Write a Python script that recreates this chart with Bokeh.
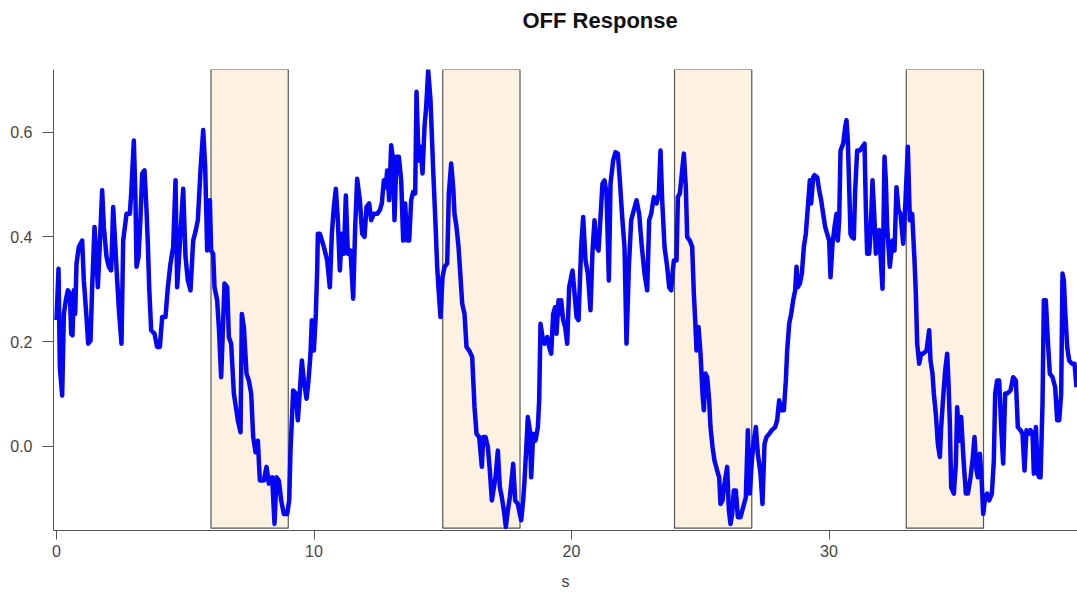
from bokeh.plotting import figure
from bokeh.models import Range1d, PrintfTickFormatter, Title
from bokeh.embed import file_html
from bokeh.resources import INLINE

# stimulus (light-off) windows, seconds
stim_start = [6, 15, 24, 33]
stim_end = [9, 18, 27, 36]

x_ticks = [0, 10, 20, 30]
y_ticks = [0.0, 0.2, 0.4, 0.6]

# response trace, split into pieces by stimulus cycle
t_pre = [0.000, 0.078, 0.129, 0.220, 0.285, 0.362, 0.440, 0.518, 0.570, 0.621,
         0.673, 0.725, 0.777, 0.867, 0.997, 1.061, 1.165, 1.230, 1.320, 1.385,
         1.476, 1.579, 1.605, 1.683, 1.773, 1.838, 1.942, 2.032, 2.123, 2.201,
         2.265, 2.356, 2.434, 2.524, 2.589, 2.718, 2.848, 2.900, 3.003, 3.068,
         3.107, 3.185, 3.262, 3.327, 3.418, 3.495, 3.547, 3.599, 3.676, 3.806,
         3.909, 4.013, 4.104, 4.233, 4.324, 4.427, 4.531, 4.622, 4.686, 4.790,
         4.919, 5.010, 5.100, 5.204, 5.307, 5.411, 5.489, 5.592, 5.696, 5.774,
         5.851, 5.955, 6.006, 6.084, 6.136, 6.239, 6.304, 6.395]
r_pre = [0.241, 0.339, 0.152, 0.097, 0.253, 0.279, 0.298, 0.292, 0.215, 0.212,
         0.298, 0.253, 0.349, 0.381, 0.393, 0.317, 0.247, 0.196, 0.202, 0.304,
         0.419, 0.330, 0.304, 0.387, 0.489, 0.419, 0.362, 0.343, 0.336, 0.457,
         0.400, 0.317, 0.253, 0.196, 0.393, 0.444, 0.444, 0.483, 0.584, 0.470,
         0.343, 0.362, 0.438, 0.521, 0.527, 0.451, 0.387, 0.304, 0.222, 0.215,
         0.190, 0.190, 0.247, 0.247, 0.304, 0.349, 0.381, 0.508, 0.304, 0.387,
         0.492, 0.362, 0.317, 0.298, 0.393, 0.413, 0.432, 0.527, 0.604, 0.534,
         0.374, 0.470, 0.374, 0.368, 0.304, 0.279, 0.228, 0.132]

t_c1 = [6.524, 6.628, 6.693, 6.783, 6.887, 7.042, 7.146, 7.197, 7.275, 7.379,
        7.469, 7.560, 7.638, 7.728, 7.819, 7.896, 8.052, 8.155, 8.246, 8.375,
        8.466, 8.544, 8.634, 8.725, 8.828, 8.958, 9.036]
r_c1 = [0.311, 0.304, 0.209, 0.196, 0.101, 0.050, 0.027, 0.253, 0.228, 0.139,
        0.126, 0.101, 0.018, -0.011, 0.011, -0.065, -0.065, -0.039, -0.071, -0.059,
        -0.148, -0.059, -0.065, -0.103, -0.129, -0.129, -0.103]

t_r1 = [9.087, 9.191, 9.294, 9.372, 9.450, 9.528, 9.605, 9.709, 9.786, 9.864,
        9.916, 9.994, 10.071, 10.123, 10.149, 10.227, 10.382, 10.511, 10.615, 10.693,
        10.770, 10.848, 10.926, 11.003, 11.081, 11.159, 11.236, 11.314, 11.417, 11.521,
        11.599, 11.676, 11.780, 11.871, 11.961, 12.039, 12.142, 12.220, 12.324, 12.453,
        12.557, 12.634, 12.712, 12.790, 12.841, 12.919, 12.997, 13.074, 13.126]
r_r1 = [-0.008, 0.107, 0.101, 0.050, 0.107, 0.164, 0.126, 0.091, 0.126, 0.177,
        0.241, 0.183, 0.253, 0.336, 0.406, 0.406, 0.381, 0.355, 0.304, 0.406,
        0.457, 0.492, 0.432, 0.336, 0.406, 0.368, 0.479, 0.368, 0.374, 0.282,
        0.419, 0.511, 0.470, 0.406, 0.400, 0.457, 0.464, 0.432, 0.444, 0.444,
        0.451, 0.464, 0.508, 0.495, 0.527, 0.470, 0.575, 0.546, 0.432]

t_c2 = [13.204, 13.294, 13.385, 13.463, 13.540, 13.618, 13.696, 13.773, 13.851, 13.929,
        13.981, 14.058, 14.136, 14.214, 14.291, 14.356, 14.434, 14.524, 14.628, 14.718,
        14.783, 14.848, 14.913, 14.990, 15.068, 15.171, 15.236, 15.327, 15.405, 15.456,
        15.534, 15.612, 15.689, 15.754, 15.845, 15.922, 16.026, 16.142, 16.233, 16.311,
        16.414, 16.518, 16.570, 16.660, 16.751, 16.828, 16.906, 16.984, 17.049, 17.139,
        17.217, 17.294, 17.372, 17.450, 17.528, 17.605, 17.683, 17.735, 17.812, 17.916,
        17.994, 18.045, 18.123, 18.175, 18.252, 18.304, 18.382, 18.434, 18.511, 18.602,
        18.693, 18.744, 18.796, 18.874, 18.951, 19.055, 19.133, 19.210, 19.288, 19.366,
        19.417, 19.495, 19.547, 19.599, 19.676, 19.754, 19.832, 19.909, 19.987, 20.039,
        20.117, 20.194, 20.272]
r_c2 = [0.553, 0.553, 0.508, 0.393, 0.464, 0.393, 0.393, 0.470, 0.486, 0.483,
        0.677, 0.546, 0.572, 0.521, 0.610, 0.648, 0.718, 0.661, 0.527, 0.425,
        0.343, 0.292, 0.247, 0.323, 0.343, 0.349, 0.483, 0.540, 0.495, 0.444,
        0.419, 0.381, 0.323, 0.273, 0.253, 0.190, 0.183, 0.171, 0.075, 0.024,
        0.018, -0.039, 0.018, 0.018, -0.001, -0.046, -0.103, -0.078, -0.059, -0.008,
        -0.078, -0.097, -0.122, -0.154, -0.122, -0.097, -0.059, -0.033, -0.103, -0.110,
        -0.129, -0.141, -0.103, -0.065, 0.005, 0.056, 0.031, -0.059, 0.024, 0.011,
        0.037, 0.088, 0.234, 0.209, 0.196, 0.209, 0.190, 0.177, 0.253, 0.266,
        0.215, 0.279, 0.253, 0.279, 0.241, 0.228, 0.196, 0.304, 0.323, 0.336,
        0.292, 0.247, 0.241]

t_c3 = [20.375, 20.453, 20.544, 20.634, 20.738, 20.816, 20.893, 20.971, 21.049, 21.126,
        21.204, 21.282, 21.359, 21.450, 21.515, 21.618, 21.709, 21.799, 21.877, 21.968,
        22.058, 22.136, 22.227, 22.318, 22.421, 22.524, 22.628, 22.731, 22.835, 22.939,
        23.016, 23.094, 23.198, 23.301, 23.392, 23.456, 23.521, 23.612, 23.715, 23.793,
        23.871, 23.922, 23.974, 24.078, 24.130, 24.207, 24.259, 24.362, 24.440, 24.492,
        24.595, 24.686, 24.751, 24.803, 24.854, 24.932, 25.010, 25.087, 25.139, 25.204,
        25.269, 25.346, 25.398, 25.476, 25.553, 25.657, 25.735, 25.786, 25.864, 25.942,
        26.045, 26.110, 26.175, 26.239, 26.304, 26.382, 26.460, 26.563, 26.667, 26.770,
        26.848, 26.926, 27.003, 27.081, 27.159, 27.236, 27.340, 27.417, 27.495, 27.573,
        27.676, 27.780, 27.909, 27.987, 28.065, 28.142, 28.246, 28.324, 28.375, 28.453,
        28.531, 28.608, 28.686, 28.738, 28.790, 28.867, 28.945, 29.023, 29.100, 29.178,
        29.256, 29.307, 29.385]
r_c3 = [0.381, 0.438, 0.355, 0.330, 0.260, 0.374, 0.432, 0.381, 0.374, 0.438,
        0.502, 0.508, 0.483, 0.317, 0.502, 0.546, 0.562, 0.559, 0.508, 0.438,
        0.381, 0.196, 0.343, 0.432, 0.451, 0.470, 0.444, 0.381, 0.330, 0.298,
        0.432, 0.444, 0.476, 0.464, 0.483, 0.565, 0.470, 0.381, 0.343, 0.304,
        0.298, 0.330, 0.355, 0.355, 0.476, 0.483, 0.508, 0.559, 0.495, 0.400,
        0.393, 0.381, 0.292, 0.241, 0.183, 0.228, 0.177, 0.101, 0.069, 0.139,
        0.132, 0.088, 0.037, -0.001, -0.027, -0.046, -0.059, -0.110, -0.103, -0.071,
        -0.039, -0.122, -0.148, -0.129, -0.084, -0.084, -0.135, -0.135, -0.116, -0.097,
        0.031, -0.090, -0.027, 0.011, 0.037, -0.014, -0.052, -0.110, 0.005, 0.018,
        0.024, 0.031, 0.037, 0.050, 0.088, 0.069, 0.069, 0.126, 0.183, 0.234,
        0.253, 0.279, 0.298, 0.343, 0.304, 0.311, 0.330, 0.381, 0.406, 0.457,
        0.508, 0.464, 0.514]

t_r3 = [29.437, 29.540, 29.618, 29.696, 29.773, 29.851, 29.929, 30.006, 30.058, 30.136,
        30.214, 30.291, 30.343, 30.395, 30.447, 30.550, 30.628, 30.680, 30.731, 30.783,
        30.835, 30.887, 30.964, 31.016, 31.094, 31.197, 31.301, 31.379, 31.430, 31.482,
        31.560, 31.612, 31.689, 31.767, 31.819, 31.871, 31.948, 32.026, 32.078, 32.155,
        32.207, 32.259, 32.362, 32.466, 32.544, 32.621, 32.699, 32.777, 32.880, 32.971]
r_r3 = [0.518, 0.514, 0.489, 0.470, 0.444, 0.419, 0.406, 0.393, 0.323, 0.387,
        0.419, 0.444, 0.393, 0.432, 0.565, 0.578, 0.610, 0.623, 0.584, 0.495,
        0.406, 0.400, 0.397, 0.489, 0.565, 0.565, 0.572, 0.578, 0.457, 0.368,
        0.368, 0.406, 0.508, 0.432, 0.368, 0.381, 0.413, 0.343, 0.301, 0.553,
        0.508, 0.419, 0.343, 0.393, 0.374, 0.495, 0.451, 0.444, 0.387, 0.470]

t_c4 = [33.061, 33.139, 33.230, 33.320, 33.372, 33.424, 33.502, 33.579, 33.657, 33.787,
        33.890, 33.942, 34.019, 34.071, 34.149, 34.227, 34.304, 34.356, 34.434, 34.511,
        34.589, 34.641, 34.693, 34.744, 34.848, 34.926, 34.977, 35.055, 35.133, 35.210,
        35.314, 35.392, 35.495, 35.573, 35.650, 35.728, 35.780, 35.858, 35.935, 35.987,
        36.065, 36.142, 36.220, 36.324, 36.401, 36.453, 36.531, 36.608, 36.686, 36.764,
        36.841, 36.919, 37.049, 37.152, 37.256, 37.333, 37.437, 37.515, 37.592, 37.670,
        37.748, 37.825, 37.903, 37.955, 38.033, 38.110, 38.162, 38.214, 38.291, 38.343,
        38.421, 38.498, 38.576, 38.680, 38.783, 38.861, 38.939, 39.016, 39.068, 39.120,
        39.171, 39.249, 39.327, 39.430, 39.534, 39.612]
r_c4 = [0.572, 0.432, 0.444, 0.355, 0.292, 0.196, 0.158, 0.177, 0.177, 0.183,
        0.222, 0.164, 0.139, 0.101, 0.062, 0.005, -0.020, 0.037, 0.094, 0.145,
        0.177, 0.120, 0.043, -0.078, -0.090, -0.033, 0.075, 0.011, 0.056, -0.014,
        -0.090, -0.090, -0.059, -0.027, 0.018, -0.046, -0.059, -0.014, -0.071, -0.129,
        -0.097, -0.090, -0.103, -0.090, -0.027, 0.101, 0.126, 0.126, 0.037, -0.033,
        0.101, 0.101, 0.107, 0.132, 0.126, 0.037, 0.031, 0.024, -0.046, 0.031,
        0.024, 0.031, 0.024, -0.052, 0.037, -0.052, -0.059, -0.059, 0.081, 0.279,
        0.279, 0.202, 0.139, 0.132, 0.113, 0.050, 0.050, 0.101, 0.330, 0.317,
        0.260, 0.190, 0.164, 0.158, 0.158, 0.113]

time_s = t_pre + t_c1 + t_r1 + t_c2 + t_c3 + t_r3 + t_c4
response = r_pre + r_c1 + r_r1 + r_c2 + r_c3 + r_r3 + r_c4

Y_LO, Y_HI = -0.1605, 0.7196

p = figure(width=1077, height=593, output_backend="svg", toolbar_location=None,
           x_range=Range1d(-0.117, 39.65), y_range=Range1d(Y_LO, Y_HI),
           min_border_left=53, min_border_right=0, min_border_top=69,
           min_border_bottom=63, background_fill_color="white",
           border_fill_color="white")

p.title.text = "OFF Response"
p.title.align = "left"
p.title.offset = 469
p.title.standoff = 4
p.title.text_font = "Liberation Sans"
p.title.text_font_size = "22px"
p.title.text_font_style = "bold"
p.title.text_color = "#111111"

# blank spacer between the title and the plot area
p.add_layout(Title(text=" ", text_font_size="1px", standoff=32), "above")

p.outline_line_color = None
p.xgrid.visible = False
p.ygrid.visible = False

# stimulus windows behind the trace
p.quad(left=stim_start, right=stim_end, bottom=-0.156, top=Y_HI,
       fill_color="#FDF2DF", line_color="#555555", line_width=1.2)

p.line(time_s, response, line_color="#0505F5", line_width=4.5, line_join="round")

for ax in (p.xaxis[0], p.yaxis[0]):
    ax.axis_line_color = "#555555"
    ax.major_tick_line_color = "#555555"
    ax.minor_tick_line_color = None
    ax.major_tick_in = 0
    ax.major_label_text_font = "Liberation Sans"
    ax.major_label_text_font_size = "16px"
    ax.major_label_text_color = "#444444"

p.xaxis.ticker = x_ticks
p.xaxis.major_tick_out = 9
p.xaxis.major_label_standoff = 5
p.xaxis.axis_label = "s"
p.xaxis.axis_label_text_font = "Liberation Sans"
p.xaxis.axis_label_text_font_size = "16px"
p.xaxis.axis_label_text_font_style = "normal"
p.xaxis.axis_label_text_color = "#444444"
p.xaxis.axis_label_standoff = 13

p.yaxis.ticker = y_ticks
p.yaxis.formatter = PrintfTickFormatter(format="%.1f")
p.yaxis.major_tick_out = 11
p.yaxis.major_label_standoff = 10

open("out.html", "w").write(file_html(p, INLINE))
